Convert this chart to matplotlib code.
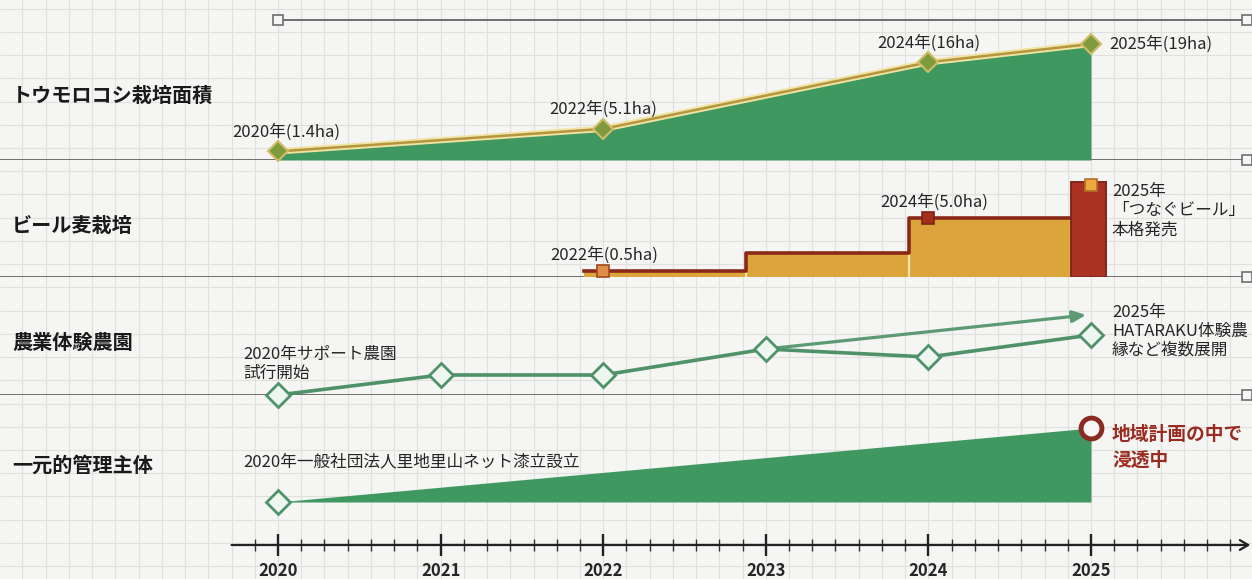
import matplotlib.pyplot as plt
import numpy as np

# 日本語フォント
plt.rcParams['font.family'] = ['Noto Sans CJK JP', 'DejaVu Sans']
plt.rcParams['axes.unicode_minus'] = False

# ---- データ ----
years = [2020, 2021, 2022, 2023, 2024, 2025]
row_names = ['トウモロコシ栽培面積', 'ビール麦栽培', '農業体験農園', '一元的管理主体']

# トウモロコシ栽培面積 (ha)
corn_years = [2020, 2022, 2024, 2025]
corn_ha = [1.4, 5.1, 16, 19]
corn_labels = ['2020年(1.4ha)', '2022年(5.1ha)', '2024年(16ha)', '2025年(19ha)']

# ビール麦栽培 (ha) 段階的に拡大
beer_start = [2021.88, 2022.88, 2023.88]
beer_ha = [0.5, 2.0, 5.0]
beer_end = 2024.88
beer_2025_ha = 8.0
beer_2025_width = 0.21
beer_mark_years = [2022, 2024, 2025]
beer_mark_ha = [0.5, 5.0, 7.8]
beer_labels = ['2022年(0.5ha)', '2024年(5.0ha)', '2025年\n「つなぐビール」\n本格発売']

# 農業体験農園 (展開の度合い)
farm_years = [2020, 2021, 2022, 2023, 2024, 2025]
farm_level = [0, 1, 1, 2.3, 1.9, 3.0]
farm_trend_years = [2023, 2024.97]
farm_trend_level = [2.3, 4.0]

# 一元的管理主体
mgmt_years = [2020, 2025]
mgmt_level = [0, 3.7]

# ---- 色 ----
BG = '#f5f5f3'
GRID = '#e0e0de'
SEP = '#6e6e6e'
GREEN = '#3f985f'
LINE_GREEN = '#4f9169'
GOLD = '#dba53b'
DARKRED = '#8a2918'
TEXT = '#262626'

W, H = 1252, 579
PX_YEAR = 162.6
XMIN = 2020 - 278 / PX_YEAR
XMAX = 2020 + (W - 278) / PX_YEAR
SEP_END = 2020 + (1247 - 278) / PX_YEAR

fig = plt.figure(figsize=(W / 100, H / 100), dpi=100, facecolor=BG)


def band(top, bottom):
    return [0, 1 - bottom / H, 1, (bottom - top) / H]


def fpos(x, y):
    return x / W, 1 - y / H


# 背景の方眼
bg = fig.add_axes([0, 0, 1, 1])
bg.set_xlim(XMIN, XMAX)
bg.set_ylim(H, 0)
bg.axis('off')
grid_x = np.arange(2020 - 11 / 7, XMAX, 1 / 7)
grid_y = np.arange(148 - 6 * 23.23, H, 23.23)
bg.vlines(grid_x, 0, H, color=GRID, lw=0.8)
bg.hlines(grid_y, XMIN, XMAX, color=GRID, lw=0.8)


def row_axes(top, bottom, ymin, ymax, axis=False):
    ax = fig.add_axes(band(top, bottom))
    ax.set_xlim(XMIN, XMAX)
    ax.set_ylim(ymin, ymax)
    ax.set_facecolor('none')
    if not axis:
        ax.axis('off')
    return ax


def separator(ax, y):
    ax.hlines(y, XMIN, SEP_END, color=SEP, lw=1.4, zorder=1)
    ax.plot(SEP_END, y, 's', ms=7, mfc=BG, mec=SEP, mew=1.2, clip_on=False, zorder=1)


# ---- トウモロコシ ----
ax1 = row_axes(20, 160, 0, 22.93)
separator(ax1, 0)
ax1.plot([2020, SEP_END], [22.93, 22.93], color=SEP, lw=1.4, marker='s', ms=7,
         mfc=BG, mec=SEP, mew=1.2, clip_on=False, zorder=1)
ax1.fill_between(corn_years, 0, corn_ha, color=GREEN, lw=0, zorder=2)
ax1.plot(corn_years, corn_ha, color='#f1e3a2', lw=4.5, zorder=3)
ax1.plot(corn_years, corn_ha, color='#b4963f', lw=1.8, zorder=3)
ax1.plot(corn_years, corn_ha, 'D', ms=10, mfc='#7f9b3e', mec='#d1bc68', mew=1.5,
         clip_on=False, zorder=4)
corn_offsets = [(6, 14), (0, 14), (0, 14), (13, 0)]
for x, y, s, off in zip(corn_years, corn_ha, corn_labels, corn_offsets):
    ha = 'left' if off[0] > 10 else 'center'
    ax1.annotate(s, (x, y), xytext=off, textcoords='offset points', ha=ha, va='center',
                 fontsize=12, color=TEXT)

# ---- ビール麦 ----
ax2 = row_axes(160, 277, 0, 9.9)
separator(ax2, 0)
step_x = beer_start + [beer_end]
step_y = beer_ha + [beer_ha[-1]]
ax2.fill_between(step_x, 0, step_y, step='post', color=GOLD, lw=0, zorder=2)
ax2.vlines(beer_start[1:] + [beer_end], 0, beer_ha, color='#f7e8aa', lw=1.6, zorder=3)
ax2.step(step_x, step_y, where='post', color=DARKRED, lw=2.6, zorder=3)
ax2.bar(beer_end, beer_2025_ha, width=beer_2025_width, align='edge', color='#ab3223',
        edgecolor='#82261a', lw=1.4, zorder=4)
beer_faces = ['#e08d4a', '#a3301f', '#eca83f']
beer_edges = ['#a04a1f', '#7e2415', '#b0702a']
for x, y, fc, ec in zip(beer_mark_years, beer_mark_ha, beer_faces, beer_edges):
    ax2.plot(x, y, 's', ms=9, mfc=fc, mec=ec, mew=1.2, zorder=5, clip_on=False)
ax2.annotate(beer_labels[0], (beer_mark_years[0], beer_mark_ha[0]), xytext=(1, 11.5),
             textcoords='offset points', ha='center', va='center', fontsize=12, color=TEXT)
ax2.annotate(beer_labels[1], (beer_mark_years[1], beer_mark_ha[1]), xytext=(4, 11.5),
             textcoords='offset points', ha='center', va='center', fontsize=12, color=TEXT)
ax2.annotate(beer_labels[2], (beer_mark_years[2], beer_mark_ha[2]), xytext=(15, 1),
             textcoords='offset points', ha='left', va='top', fontsize=12, color=TEXT,
             linespacing=1.15)

# ---- 農業体験農園 ----
ax3 = row_axes(277, 395, 0, 5.9)
separator(ax3, 0)
ax3.plot(farm_years, farm_level, color=LINE_GREEN, lw=2.6, zorder=3)
ax3.annotate('', xy=(farm_trend_years[1], farm_trend_level[1]),
             xytext=(farm_trend_years[0], farm_trend_level[0]),
             arrowprops=dict(arrowstyle='-|>,head_length=0.8,head_width=0.35',
                             color='#5b9a72', lw=2.3, shrinkA=0, shrinkB=0), zorder=3)
ax3.plot(farm_years, farm_level, 'D', ms=12, mfc='#eef7ef', mec=LINE_GREEN, mew=2,
         clip_on=False, zorder=4)

# ---- 一元的管理主体 + 時間軸 ----
ax4 = row_axes(395, 545, -2.15, 5.35, axis=True)
for s in ax4.spines.values():
    s.set_visible(False)
ax4.set_yticks([])
ax4.fill_between(mgmt_years, 0, mgmt_level, color=GREEN, lw=0, zorder=2)
ax4.plot(mgmt_years[0], mgmt_level[0], 'D', ms=12, mfc='#eef7ef', mec=LINE_GREEN, mew=2,
         zorder=4)
ax4.plot(mgmt_years[1], mgmt_level[1], 'o', ms=15, mfc='#f6f6f4', mec='#8a2a22', mew=3.5,
         zorder=4)

ax4.set_xticks(years)
ax4.set_xticklabels([str(y) for y in years], fontweight='bold')
ax4.set_xticks(np.arange(2020 - 1 / 7, 2025 + 6.5 / 7, 1 / 7), minor=True)
ax4.tick_params(axis='x', which='major', direction='inout', length=16, width=1.7,
                color='#222222', labelsize=12, labelcolor=TEXT, pad=4)
ax4.tick_params(axis='x', which='minor', direction='inout', length=9, width=1.0,
                color='#333333')
ax4.annotate('', xy=(XMAX - 0.01, 0), xytext=(2020 - 2 / 7, 0),
             xycoords=('data', 'axes fraction'), textcoords=('data', 'axes fraction'),
             arrowprops=dict(arrowstyle='->,head_length=0.6,head_width=0.35',
                             color='#222222', lw=1.6, shrinkA=0, shrinkB=0))

# ---- 文字 ----
row_y = [95, 225, 342, 465]
for name, y in zip(row_names, row_y):
    fig.text(*fpos(12, y), name, fontsize=14.5, fontweight='bold', color='#1a1a1a',
             ha='left', va='center')

fig.text(*fpos(243, 364), '2020年サポート農園\n試行開始', fontsize=12, color=TEXT,
         ha='left', va='center', linespacing=1.15)
fig.text(*fpos(1112, 331), '2025年\nHATARAKU体験農\n縁など複数展開', fontsize=12,
         color=TEXT, ha='left', va='center', linespacing=1.15)
fig.text(*fpos(243, 462), '2020年一般社団法人里地里山ネット漆立設立', fontsize=12,
         color=TEXT, ha='left', va='center')
fig.text(*fpos(1112, 447), '地域計画の中で\n浸透中', fontsize=13.5, fontweight='bold',
         color='#9a2b20', ha='left', va='center', linespacing=1.45)

plt.savefig('out.png', dpi=100, facecolor=BG)
